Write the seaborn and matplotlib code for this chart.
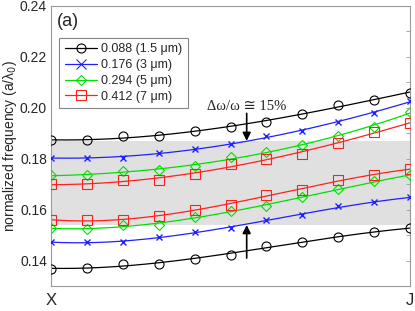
import numpy as np
import matplotlib
matplotlib.use("Agg")
import matplotlib.pyplot as plt
import seaborn as sns
from matplotlib.lines import Line2D

# k-point index along X -> J
kpts = np.arange(11)

labels = ["0.088 (1.5 \u03bcm)", "0.176 (3 \u03bcm)", "0.294 (5 \u03bcm)", "0.412 (7 \u03bcm)"]
colors = ["black", "#2020ff", "#00e000", "#ff2020"]
markers = ["o", "x", "D", "s"]

# upper band
upper_0088 = [0.1872, 0.1875, 0.1888, 0.1890, 0.1908, 0.1925, 0.1944, 0.1977, 0.2011, 0.2031, 0.2060]
upper_0176 = [0.1804, 0.1804, 0.1804, 0.1821, 0.1839, 0.1856, 0.1890, 0.1910, 0.1944, 0.1981, 0.2026]
upper_0294 = [0.1735, 0.1735, 0.1752, 0.1755, 0.1771, 0.1808, 0.1826, 0.1855, 0.1891, 0.1925, 0.1984]
upper_0412 = [0.1699, 0.1699, 0.1717, 0.1717, 0.1739, 0.1781, 0.1799, 0.1820, 0.1861, 0.1904, 0.1941]

# lower band
lower_0088 = [0.1368, 0.1371, 0.1387, 0.1388, 0.1405, 0.1424, 0.1457, 0.1475, 0.1493, 0.1511, 0.1528]
lower_0176 = [0.1472, 0.1472, 0.1475, 0.1492, 0.1511, 0.1528, 0.1561, 0.1579, 0.1613, 0.1629, 0.1648]
lower_0294 = [0.1527, 0.1523, 0.1539, 0.1541, 0.1572, 0.1595, 0.1615, 0.1648, 0.1681, 0.1712, 0.1735]
lower_0412 = [0.1559, 0.1559, 0.1561, 0.1577, 0.1599, 0.1619, 0.1659, 0.1679, 0.1717, 0.1737, 0.1759]

uppers = [upper_0088, upper_0176, upper_0294, upper_0412]
lowers = [lower_0088, lower_0176, lower_0294, lower_0412]

band_lo, band_hi = 0.154, 0.187
ylim = (0.13, 0.24)

sns.set_style("white")
plt.rcParams['font.family'] = ['Liberation Sans', 'DejaVu Sans']

fig = plt.figure(figsize=(4.15, 3.11), dpi=100)
ax = fig.add_axes([0.123, 0.080, 0.865, 0.901])

ax.axhspan(band_lo, band_hi, color="#e0e0e0", lw=0, zorder=0)

xs = np.linspace(0, 10, 200)
for c, m, up, lo in zip(colors, markers, uppers, lowers):
    for vals in (up, lo):
        fit = np.polyval(np.polyfit(kpts, vals, 3), xs)
        sns.lineplot(x=xs, y=fit, color=c, lw=0.9, ax=ax, zorder=2)
        if m == "x":
            ax.plot(kpts, vals, ls="none", marker=m, color=c, ms=5, mew=1.0, zorder=3)
        else:
            ax.plot(kpts, vals, ls="none", marker=m, mfc="none", mec=c,
                    ms=6.5 if m != "D" else 5.5, mew=0.8, zorder=3)

ax.set_xlim(0, 10)
ax.set_ylim(*ylim)
ax.set_yticks([0.14, 0.16, 0.18, 0.20, 0.22, 0.24])
ax.set_yticks(np.arange(0.13, 0.2401, 0.01), minor=True)
ax.set_xticks([0, 10])
ax.set_xticklabels(["X", "J"], fontsize=12)
ax.set_xticks(kpts, minor=True)
ax.tick_params(axis="both", which="both", direction="in", color="#999999",
               length=3, width=0.6, top=False, right=True)
ax.tick_params(axis="y", which="major", labelsize=10, pad=3)
ax.tick_params(axis="x", which="major", length=0, pad=5)
for s in ax.spines.values():
    s.set_color("#999999")
    s.set_linewidth(0.8)

ax.set_ylabel("")
ax.set_xlabel("")
fig.text(0.024, 0.53, "normalized frequency (a/\u03bb$_0$)", fontsize=10,
         rotation=90, ha="center", va="center")

ax.text(0.17, 0.234, "(a)", fontsize=13, va="center", ha="left")

ax.text(5.45, 0.2006, "\u0394\u03c9/\u03c9 \u2245 15%", fontsize=10.5, ha="center", va="center",
        family=["Liberation Serif", "DejaVu Sans"])
ax.annotate("", xy=(5.45, band_hi), xytext=(5.45, 0.1978),
            arrowprops=dict(arrowstyle="-|>", color="black", lw=1.2, mutation_scale=12,
                            shrinkA=0, shrinkB=0))
ax.annotate("", xy=(5.45, band_lo), xytext=(5.45, 0.1410),
            arrowprops=dict(arrowstyle="-|>", color="black", lw=1.2, mutation_scale=12,
                            shrinkA=0, shrinkB=0))

handles = [Line2D([], [], color=c, marker=m, mfc="none" if m != "x" else c, mec=c,
                  ms=6.5 if m != "D" else 5.5, lw=0.9, mew=0.8)
           for c, m in zip(colors, markers)]
leg = ax.legend(handles, labels, loc="upper left", bbox_to_anchor=(0.022, 0.886),
                fontsize=9, frameon=True, fancybox=False, edgecolor="#666666",
                handlelength=2.6, handletextpad=0.3, labelspacing=0.3,
                borderpad=0.45, borderaxespad=0)
leg.get_frame().set_linewidth(0.8)

fig.savefig("out.png", dpi=100)
